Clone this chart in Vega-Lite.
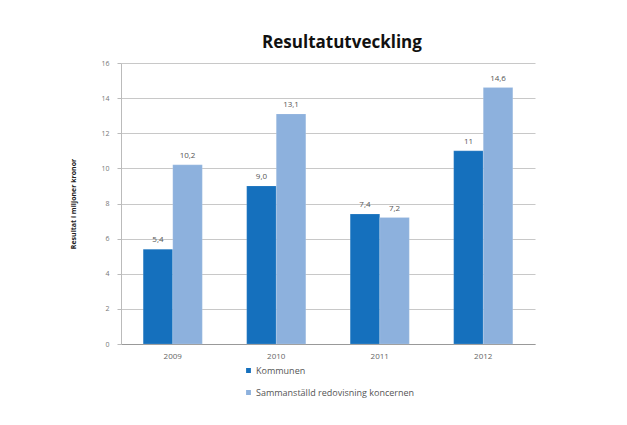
{
  "$schema": "https://vega.github.io/schema/vega-lite/v6.json",
  "autosize": "none",
  "width": 414,
  "height": 281,
  "padding": {"left": 121, "top": 63, "right": 92, "bottom": 81},
  "background": "white",
  "title": {
    "text": "Resultatutveckling",
    "fontSize": 17,
    "fontWeight": "bold",
    "font": "Open Sans",
    "color": "#111111",
    "anchor": "middle",
    "dx": 14,
    "offset": 7
  },
  "data": {
    "values": [
      {"year": "2009", "series": "Kommunen", "value": 5.4, "label": "5,4"},
      {"year": "2009", "series": "Sammanställd redovisning koncernen", "value": 10.2, "label": "10,2"},
      {"year": "2010", "series": "Kommunen", "value": 9.0, "label": "9,0"},
      {"year": "2010", "series": "Sammanställd redovisning koncernen", "value": 13.1, "label": "13,1"},
      {"year": "2011", "series": "Kommunen", "value": 7.4, "label": "7,4"},
      {"year": "2011", "series": "Sammanställd redovisning koncernen", "value": 7.2, "label": "7,2"},
      {"year": "2012", "series": "Kommunen", "value": 11, "label": "11"},
      {"year": "2012", "series": "Sammanställd redovisning koncernen", "value": 14.6, "label": "14,6"}
    ]
  },
  "encoding": {
    "x": {
      "field": "year",
      "type": "nominal",
      "scale": {"paddingInner": 0.0, "paddingOuter": 0},
      "axis": {
        "title": null,
        "labelAngle": 0,
        "labelFontSize": 8,
        "labelColor": "#666666",
        "labelFont": "Open Sans",
        "domainColor": "#999999",
        "ticks": false,
        "labelPadding": 8
      }
    },
    "xOffset": {
      "field": "series",
      "type": "nominal",
      "scale": {"paddingInner": 0, "paddingOuter": 0.75}
    },
    "y": {
      "field": "value",
      "type": "quantitative",
      "scale": {"domain": [0, 16], "nice": false},
      "axis": {
        "title": "Resultat i miljoner kronor",
        "titleFontSize": 7,
        "titleFontWeight": "bold",
        "titleFont": "Open Sans",
        "titleColor": "#222222",
        "titlePadding": 24,
        "values": [0, 2, 4, 6, 8, 10, 12, 14, 16],
        "labelFontSize": 7,
        "labelColor": "#777777",
        "labelFont": "Open Sans",
        "labelPadding": 8,
        "tickSize": 4,
        "tickColor": "#bbbbbb",
        "domainColor": "#bbbbbb",
        "gridColor": "#c8c8c8",
        "grid": true
      }
    }
  },
  "layer": [
    {
      "mark": {"type": "bar", "stroke": "#ffffff", "strokeOpacity": 0.3, "strokeWidth": 0.5},
      "encoding": {
        "color": {
          "field": "series",
          "type": "nominal",
          "scale": {
            "domain": ["Kommunen", "Sammanställd redovisning koncernen"],
            "range": ["#1570bd", "#8db1dd"]
          },
          "legend": {
            "title": null,
            "orient": "none",
            "legendX": 123,
            "legendY": 303,
            "direction": "vertical",
            "symbolType": "square",
            "symbolSize": 40,
            "labelFontSize": 9,
            "labelFont": "Open Sans",
            "labelColor": "#555555",
            "rowPadding": 9,
            "labelOffset": 3,
            "labelLimit": 400
          }
        }
      }
    },
    {
      "mark": {"type": "text", "dy": -9, "fontSize": 8, "font": "Open Sans", "color": "#555555"},
      "encoding": {
        "text": {"field": "label", "type": "nominal"}
      }
    }
  ],
  "config": {
    "view": {"stroke": null}
  }
}
